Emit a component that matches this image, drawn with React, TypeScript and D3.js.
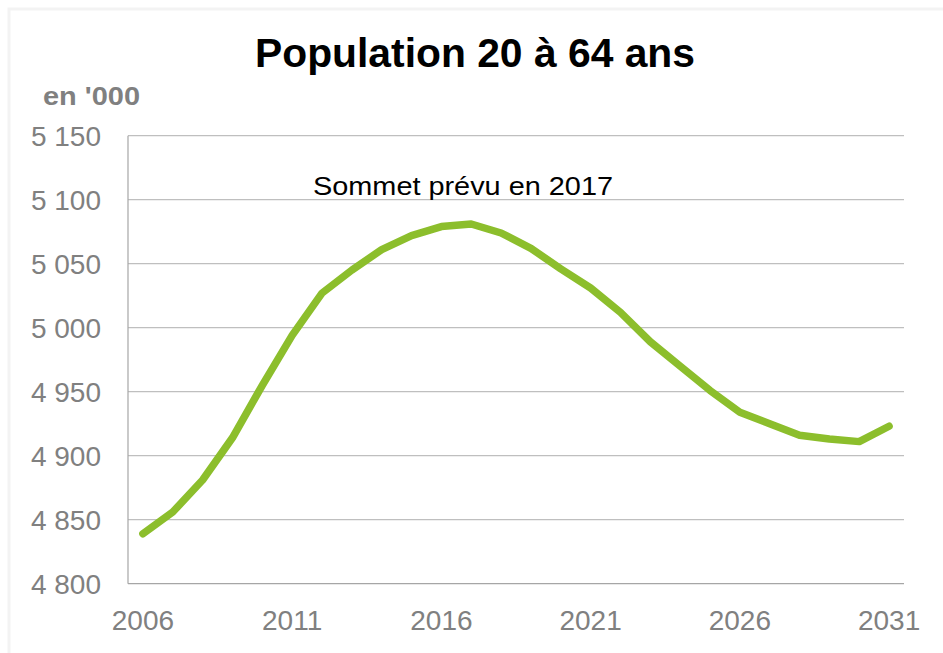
import React from "react";
import * as d3 from "d3";

const years = d3.range(2006, 2032).map(String);
const population = [
  4839, 4856, 4881, 4914, 4955, 4994, 5027, 5045, 5061, 5072, 5079, 5081, 5074,
  5062, 5046, 5031, 5012, 4989, 4970, 4951, 4934, 4925, 4916, 4913, 4911, 4923,
];
const yTicks = [4800, 4850, 4900, 4950, 5000, 5050, 5100, 5150];
const xTickLabels = ["2006", "2011", "2016", "2021", "2026", "2031"];

const title = "Population 20 à 64 ans";
const unitLabel = "en '000";
const note = "Sommet prévu en 2017";

const width = 943;
const height = 653;
const plot = { left: 128, right: 904, top: 135.7, bottom: 583.7 };
const font = "'Liberation Sans', Arial, sans-serif";

const fmt = (v: number) => d3.format(",")(v).replace(",", " ");

export default function App() {
  const x = d3.scaleBand().domain(years).range([plot.left, plot.right]);
  const y = d3.scaleLinear().domain([4800, 5150]).range([plot.bottom, plot.top]);
  const cx = (yr: string) => (x(yr) as number) + x.bandwidth() / 2;

  const line = d3
    .line<number>()
    .x((_, i) => cx(years[i]))
    .y((d) => y(d));

  return (
    <div style={{ position: "absolute", left: 0, top: 0 }}>
      <svg width={width} height={height} style={{ display: "block" }}>
        <rect x={0} y={0} width={width} height={height} fill="#fff" />
        <rect x={9} y={9} width={width + 5} height={height + 5} fill="none" stroke="#f3f3f3" strokeWidth={3} />

        <text x={475} y={66.5} textAnchor="middle" fontFamily={font} fontWeight="bold" fontSize={40.5} fill="#000"
          textLength={440} lengthAdjust="spacingAndGlyphs">
          {title}
        </text>
        <text x={43} y={105} fontFamily={font} fontWeight="bold" fontSize={26} fill="#808080"
          textLength={97} lengthAdjust="spacingAndGlyphs">
          {unitLabel}
        </text>

        {yTicks.map((t) =>
          t === 4800 ? null : (
            <line key={t} x1={plot.left} x2={plot.right} y1={y(t)} y2={y(t)} stroke="#BFBFBF" strokeWidth={1.2} />
          )
        )}
        <line x1={plot.left} x2={plot.left} y1={plot.top} y2={plot.bottom} stroke="#A6A6A6" strokeWidth={1.2} />
        <line x1={plot.left} x2={plot.right} y1={plot.bottom} y2={plot.bottom} stroke="#A6A6A6" strokeWidth={1.2} />

        {yTicks.map((t) => (
          <text key={t} x={101} y={y(t) + 10} textAnchor="end" fontFamily={font} fontSize={28} fill="#808080">
            {fmt(t)}
          </text>
        ))}
        {xTickLabels.map((t) => (
          <text key={t} x={cx(t)} y={630} textAnchor="middle" fontFamily={font} fontSize={28} fill="#808080">
            {t}
          </text>
        ))}

        <path
          d={line(population) ?? ""}
          fill="none"
          stroke="#8CBE2C"
          strokeWidth={7.5}
          strokeLinejoin="round"
          strokeLinecap="round"
        />

        <text x={313} y={y(5100) - 5} fontFamily={font} fontSize={26} fill="#000"
          textLength={300} lengthAdjust="spacingAndGlyphs">
          {note}
        </text>
      </svg>
    </div>
  );
}
